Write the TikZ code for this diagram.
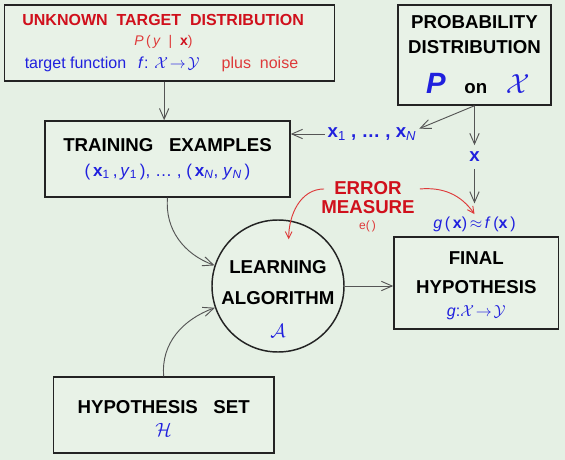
\documentclass[tikz,border=0pt]{standalone}
\usepackage{fontspec}
\setmainfont{Liberation Sans}
\usetikzlibrary{arrows.meta}
\tikzset{>={Straight Barb[length=8pt,width=7pt]}}

\definecolor{bgcol}{RGB}{229,240,228}
\definecolor{boxcol}{RGB}{232,242,231}
\definecolor{framecol}{RGB}{35,35,35}
\definecolor{titlered}{RGB}{208,16,28}
\definecolor{softred}{RGB}{222,58,58}
\definecolor{textblue}{RGB}{32,32,222}
\definecolor{arrowgray}{RGB}{85,85,85}

\newcommand{\labfont}[1]{\fontsize{#1}{0}\selectfont\lineskiplimit=-100pt\relax}

\begin{document}
\begin{tikzpicture}[x=0.75pt, y=0.75pt,
    box/.style={draw=framecol, line width=1.1pt, fill=boxcol, inner sep=0pt, align=center, font=\bfseries\labfont{14}},
    tag/.style={inner sep=2pt, align=center},
    flow/.style={->, draw=arrowgray, line width=0.7pt},
    errflow/.style={-{Straight Barb[length=5pt,width=5pt]}, draw=softred, line width=0.7pt}
  ]
  \fill[bgcol] (0,0) rectangle (565,-460);
  \useasboundingbox (0,0) rectangle (565,-460);

  % boxes
  \node[box, minimum width=247.5pt, minimum height=57pt] (target) at (169.5,-43) {
    {\color{titlered}\labfont{12}UNKNOWN\ \ TARGET\ \ DISTRIBUTION}\kern9.6pt\\[15pt]
    {\mdseries\labfont{10.5}\color{softred}\textit{P}\,(\,\textit{y}\ \ |\ \ {\bfseries\color{titlered}x})}\kern9pt\\[17.25pt]
    {\mdseries\labfont{12}{\color{textblue}target function\hspace{9pt}\textit{f}: $\mathcal{X}\!\rightarrow\!\mathcal{Y}$}\hspace{16.5pt}{\color{softred}plus\ \ noise}}\kern12pt};
  \node[box, minimum width=114.75pt, minimum height=75pt] (prob) at (474.5,-55) {
    PROBABILITY\\[18.75pt]DISTRIBUTION\\[30pt]
    \kern5pt{\color{textblue}\labfont{22}\textit{P}}\quad on\quad{\color{textblue}\labfont{20}$\mathcal{X}$}};
  \node[box, minimum width=183.75pt, minimum height=57pt] (train) at (167.5,-159) {
    TRAINING\ \ \ EXAMPLES\\[18.75pt]
    {\mdseries\labfont{12.8}\color{textblue}(\,\textbf{x}\textsubscript{1}\,,\,\textit{y}\textsubscript{1}\,), \dots\ , (\,\textbf{x}\textsubscript{\itshape N}, \textit{y}\textsubscript{\itshape N}\,)}};
  \node[circle, draw=framecol, line width=1.1pt, fill=boxcol, minimum size=99pt, inner sep=0pt] (alg) at (278,-286) {};
  \node[tag, font=\bfseries\labfont{14}] (algtext) at (278,-299) {LEARNING\\[23.8pt]ALGORITHM\\[24.75pt]{\color{textblue}\mdseries$\mathcal{A}$}};
  \node[box, minimum width=123.5pt, minimum height=69pt] (final) at (476.3,-283) {
    \mbox{}\\[13.8pt]FINAL\\[21.2pt]HYPOTHESIS\\[17.5pt]{\mdseries\labfont{12}\color{textblue}\textit{g}:$\mathcal{X}\!\rightarrow\!\mathcal{Y}$}};
  \node[box, minimum width=165.5pt, minimum height=57pt] (hyp) at (163.7,-415) {
    \mbox{}\\[14.85pt]HYPOTHESIS\ \ \ SET\\[17pt]{\color{textblue}\mdseries$\mathcal{H}$}};

  % labels on the way
  \node[tag, font=\bfseries\labfont{14}, text=textblue] (samples) at (372,-134) {\textbf{x}\textsubscript{\mdseries 1}\ , \dots\ , \textbf{x}\textsubscript{\mdseries\itshape N}};
  \node[tag, font=\bfseries\labfont{14}, text=textblue, inner sep=5pt] (xpt) at (474.5,-157) {x};
  \node[tag, font=\labfont{12}, text=textblue] (gfx) at (474.5,-224.5) {\textit{g}\,(\,\textbf{x})\,$\approx$\,\textit{f}\,(\textbf{x}\,)};
  \node[tag, font=\bfseries\labfont{14}, text=titlered] (errname) at (368,-197.5) {ERROR\\[13.75pt]MEASURE};
  \node[tag, font=\labfont{9}, text=softred] (errfn) at (367.5,-226.7) {e(\,)};

  % arrows
  \draw[flow] ([xshift=-4pt]target.south) -- ([xshift=-4pt]target.south |- train.north);
  \draw[flow] (prob.south) -- ([yshift=4pt]samples.east);
  \draw[flow] (samples.west) -- (samples.west -| train.east);
  \draw[flow] (prob.south) -- (prob.south |- xpt.north);
  \draw[flow, shorten >=8pt] (xpt) -- (gfx);
  \draw[flow] (train.south) to[out=-95,in=160] (alg.162);
  \draw[flow] (hyp.north) to[out=95,in=200] (alg.199);
  \draw[flow] (alg.east) -- (alg.east -| final.west);
  \draw[errflow] ([xshift=4.3pt,yshift=6.4pt]errname.west) to[out=180,in=90] ([xshift=8pt,yshift=-15pt]alg.north);
  \draw[errflow] ([xshift=1.7pt,yshift=6.4pt]errname.east) to[out=5,in=125] (gfx.north);
\end{tikzpicture}
\end{document}
